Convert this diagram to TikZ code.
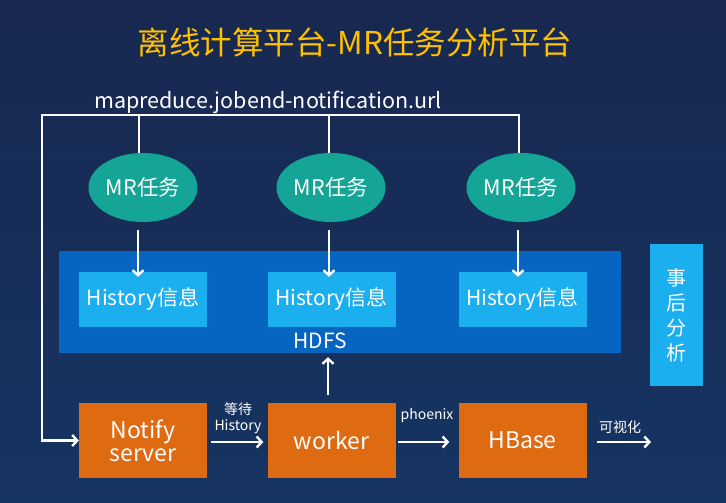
\documentclass[tikz,border=0pt]{standalone}
\usepackage{fontspec}
\setmainfont{Noto Sans CJK SC}
\usetikzlibrary{arrows.meta}
\definecolor{bgtop}{HTML}{182850}
\definecolor{bgbot}{HTML}{163462}
\definecolor{titlec}{HTML}{FFC000}
\definecolor{teal}{HTML}{15A596}
\definecolor{hdfsc}{HTML}{0565C1}
\definecolor{histc}{HTML}{1BAFEF}
\definecolor{orangec}{HTML}{DE6A12}
\tikzset{
  wline/.style={draw=white, line width=2.6pt},
  arr/.style={wline, -{Straight Barb[length=5pt,width=11pt,line width=2.4pt]}},
  mrnode/.style={ellipse, fill=teal, minimum width=109pt, minimum height=69pt, inner sep=0pt, text=white, font=\fontsize{21.5}{24}\selectfont},
  histbox/.style={rectangle, fill=histc, minimum width=128pt, minimum height=55pt, inner sep=0pt, text=white, font=\fontsize{21}{24}\selectfont},
  orbox/.style={rectangle, fill=orangec, minimum width=128pt, minimum height=75pt, inner sep=0pt, text=white, align=center, font=\fontsize{23}{26}\selectfont},
  small/.style={text=white, inner sep=0pt, align=center, font=\fontsize{14}{15}\selectfont},
}
\usetikzlibrary{shapes.geometric}
\begin{document}
\begin{tikzpicture}[x=1pt,y=-1pt]
\useasboundingbox (0,0) rectangle (726,503);
\shade[top color=bgtop, bottom color=bgbot] (0,0) rectangle (726,503);

% title
\node[text=titlec, inner sep=0pt, font=\fontsize{31.5}{34}\selectfont] (title) at (355,42) {离线计算平台-MR任务分析平台};
\node[text=white, inner sep=0pt, font=\fontsize{21.5}{24}\selectfont] (url) at (268,102) {mapreduce.jobend-notification.url};

% HDFS and side box
\node[rectangle, fill=hdfsc, minimum width=562pt, minimum height=102pt, inner sep=0pt] (hdfs) at (340,302) {};
\node[small, font=\fontsize{21}{24}\selectfont] (hdfslab) at (320,341) {HDFS};
\node[rectangle, fill=histc, minimum width=53pt, minimum height=142pt, inner sep=0pt, text=white, align=center, font=\fontsize{20}{25}\selectfont] (post) at (676.5,315) {事\\后\\分\\析};

% MR tasks
\node[mrnode] (mr1) at (143,187.5) {MR任务};
\node[mrnode] (mr2) at (331,187.5) {MR任务};
\node[mrnode] (mr3) at (521,187.5) {MR任务};

% history boxes
\node[histbox] (h1) at (143,299.5) {History信息};
\node[histbox] (h2) at (331.5,299.5) {History信息};
\node[histbox] (h3) at (522.5,299.5) {History信息};

% bottom boxes
\node[orbox] (notify) at (143,440.5) {Notify\\[-3pt]server};
\node[orbox] (worker) at (331.5,440.5) {worker};
\node[orbox] (hbase) at (522.5,440.5) {HBase};

% feedback line
\coordinate (tl) at (42,115);
\coordinate (t1) at (139,115);
\coordinate (t2) at (329,115);
\coordinate (t3) at (519,115);
\draw[wline, line width=1.8pt] (t1) -- (t1 |- mr1.north);
\draw[wline, line width=1.8pt] (t2) -- (t2 |- mr2.north);
\draw[wline, line width=1.8pt] (t3) -- (t3 |- mr3.north);
\draw[arr, line join=miter] ([xshift=1pt]t3) -- (tl) -- (tl |- notify.west) -- (notify.west);

% MR -> history
\coordinate (a1) at (138,0);
\coordinate (a2) at (329,0);
\coordinate (a3) at (518,0);
\draw[arr, shorten <=8pt, shorten >=-5pt] (a1 |- mr1.south) -- (a1 |- h1.north);
\draw[arr, shorten <=8pt, shorten >=-5pt] (a2 |- mr2.south) -- (a2 |- h2.north);
\draw[arr, shorten <=8pt, shorten >=-5pt] (a3 |- mr3.south) -- (a3 |- h3.north);

% worker -> HDFS
\coordinate (wx) at (328,0);
\draw[arr, shorten <=8pt, shorten >=4pt] (wx |- worker.north) -- (wx |- hdfs.south);

% horizontal arrows
\draw[arr, shorten <=4pt, shorten >=4pt] ([yshift=-1.5pt]notify.east) -- ([yshift=-1.5pt]worker.west);
\draw[arr, shorten <=2pt, shorten >=9pt] ([yshift=-1.5pt]worker.east) -- ([yshift=-1.5pt]hbase.west);
\coordinate (vis) at (651,442);
\draw[arr, shorten <=10pt] (hbase.east |- vis) -- (vis);

% labels
\node[small, font=\fontsize{14}{16}\selectfont] (lwait) at (238,418) {等待\\History};
\node[small] (lphx) at (427,416) {phoenix};
\node[small] (lvis) at (620,427) {可视化};
\end{tikzpicture}
\end{document}
